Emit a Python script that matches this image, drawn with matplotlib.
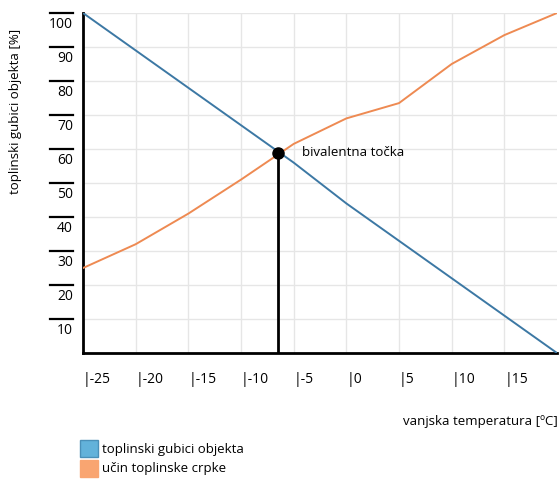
import matplotlib
matplotlib.use("Agg")
import matplotlib.pyplot as plt
import matplotlib.transforms as mtransforms
from matplotlib.patches import Patch

plt.rcParams["font.family"] = ["Open Sans", "DejaVu Sans"]

# vanjska temperatura [ºC]
temps = [-25, -20, -15, -10, -5, 0, 5, 10, 15, 20]
# toplinski gubici objekta [%]
losses = [100, 89, 78, 67, 56, 44, 33, 22, 11, 0]
# učin toplinske crpke [%]
pump = [25, 32, 41, 51, 61.5, 69, 73.5, 85, 93.5, 100]

biv_x = -6.5
biv_y = 58.9

x_ticks = [-25, -20, -15, -10, -5, 0, 5, 10, 15]
y_ticks = [10, 20, 30, 40, 50, 60, 70, 80, 90, 100]

blue_line = "#3c78a4"
orange_line = "#ee8a52"
blue_patch = "#62b2da"
orange_patch = "#f9a571"

fig = plt.figure(figsize=(5.59, 4.82), dpi=100)
ax = fig.add_axes([0.1485, 0.2676, 0.8479, 0.7054])

ax.plot(temps, losses, color=blue_line, lw=1.4, zorder=3)
ax.plot(temps, pump, color=orange_line, lw=1.4, zorder=3)
ax.plot([biv_x, biv_x], [0, biv_y], color="black", lw=2, zorder=4)
ax.plot([biv_x], [biv_y], "o", color="black", ms=8, zorder=5)
ax.text(biv_x + 2.3, biv_y, "bivalentna točka", fontsize=9.5, va="center", ha="left")

ax.set_xlim(-25, 20)
ax.set_ylim(0, 100)
ax.set_xticks([-20, -15, -10, -5, 0, 5, 10, 15])
ax.set_yticks(y_ticks)
ax.grid(True, color="#e6e6e6", lw=1)
ax.tick_params(length=0, labelbottom=False, labelleft=False)
for side in ["top", "right"]:
    ax.spines[side].set_visible(False)
for side in ["left", "bottom"]:
    ax.spines[side].set_linewidth(2)

# y labels with a bar above each number
ytrans = mtransforms.blended_transform_factory(ax.transAxes, ax.transData)
for v in y_ticks:
    ax.plot([-0.07, -0.021], [v, v], color="black", lw=1.6, transform=ytrans, clip_on=False)
    ax.text(-0.021, v - 1.3, str(v), fontsize=10, ha="right", va="top", transform=ytrans)

# x labels with a bar in front
xtrans = mtransforms.blended_transform_factory(ax.transData, ax.transAxes)
for v in x_ticks:
    ax.text(v, -0.078, "|" + str(v), fontsize=10, ha="left", va="center", transform=xtrans)

fig.text(0.027, 0.768, "toplinski gubici objekta [%]", rotation=90, fontsize=9.5,
         ha="center", va="center")
fig.text(403 / 559, 1 - 421 / 482, "vanjska temperatura [ºC]", fontsize=9.5,
         ha="left", va="center")

handles = [
    Patch(facecolor=blue_patch, edgecolor="#4a90b8", label="toplinski gubici objekta"),
    Patch(facecolor=orange_patch, edgecolor=orange_patch, label="učin toplinske crpke"),
]
fig.legend(handles=handles, loc="upper left", bbox_to_anchor=(80 / 559, 1 - 440 / 482),
           frameon=False, fontsize=9.5, handlelength=1.4, handleheight=1.6,
           handletextpad=0.3, labelspacing=0.2, borderaxespad=0, borderpad=0)

fig.savefig("out.png", dpi=100)
